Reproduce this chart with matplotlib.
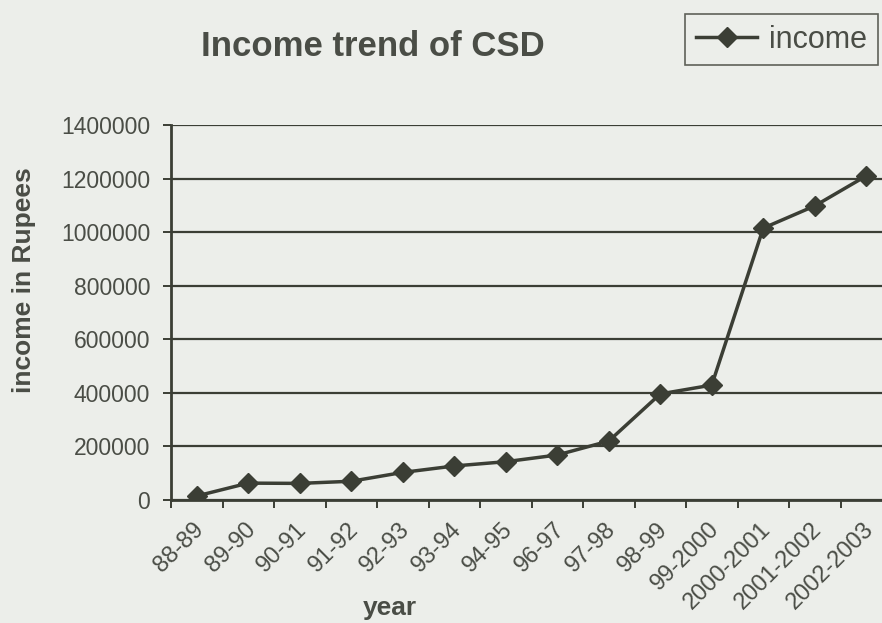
# Income trend of CSD - line chart recreation
import numpy as np
import matplotlib.pyplot as plt
from matplotlib.ticker import FixedLocator
import matplotlib.transforms as mtransforms

# Data
years = ["88-89", "89-90", "90-91", "91-92", "92-93", "93-94", "94-95",
         "96-97", "97-98", "98-99", "99-2000", "2000-2001", "2001-2002",
         "2002-2003"]
income = [15000, 63000, 62000, 70000, 103000, 127000, 143000,
          168000, 220000, 396000, 429000, 1015000, 1098000, 1210000]
y_ticks = [0, 200000, 400000, 600000, 800000, 1000000, 1200000, 1400000]

bg = "#eceeea"
ink = "#3b3e35"
txt = "#4a4d46"

plt.rcParams["font.family"] = ["Liberation Sans", "DejaVu Sans"]

fig = plt.figure(figsize=(8.82, 6.23), dpi=100, facecolor=bg)
ax = fig.add_axes([171 / 882, 1 - 500 / 623, 721 / 882, 375 / 623])
ax.set_facecolor(bg)

x = np.arange(len(years))
ax.plot(x, income, color=ink, lw=2.5, marker="D", ms=10,
        markerfacecolor=ink, markeredgecolor=ink, label="income")

ax.set_xlim(-0.5, len(years) - 0.5)
ax.set_ylim(0, 1400000)

# gridlines
ax.set_yticks(y_ticks)
ax.set_yticklabels([str(v) for v in y_ticks])
ax.yaxis.grid(True, color=ink, lw=1.6)
ax.set_axisbelow(True)

for s in ["top", "right"]:
    ax.spines[s].set_visible(False)
for s in ["left", "bottom"]:
    ax.spines[s].set_color(ink)
    ax.spines[s].set_linewidth(2)

# ticks at category boundaries, labels at centers
ax.set_xticks(x)
ax.set_xticklabels(years, rotation=45, ha="right", va="top",
                   rotation_mode="anchor", fontsize=17, color=txt)
ax.xaxis.set_minor_locator(FixedLocator(np.arange(-0.5, len(years), 1.0)))
ax.tick_params(axis="x", which="major", length=0, pad=13)
ax.tick_params(axis="x", which="minor", length=6, width=1.4, color=ink)
ax.tick_params(axis="y", length=6, width=1.4, color=ink, labelsize=16.5,
               labelcolor=txt, pad=9)

offset = mtransforms.ScaledTranslation(-4 / 100, 0, fig.dpi_scale_trans)
for lab in ax.get_xticklabels():
    lab.set_transform(lab.get_transform() + offset)

ax.set_ylabel("income in Rupees", fontsize=19, fontweight="bold", color=txt)
ax.yaxis.set_label_coords(36 / 882, 1 - 280 / 623, transform=fig.transFigure)
fig.text(390 / 882, 1 - 608 / 623, "year", fontsize=19, fontweight="bold",
         color=txt, ha="center", va="center")

fig.text(373 / 882, 1 - 46 / 623, "Income trend of CSD", fontsize=25,
         fontweight="bold", color=txt, ha="center", va="center")

leg = fig.legend(loc="upper right", bbox_to_anchor=(878 / 882, 1 - 14 / 623),
                 fontsize=22, frameon=True, fancybox=False, handlelength=2.0,
                 borderpad=0.35, handletextpad=0.4, borderaxespad=0)
leg.get_frame().set_edgecolor(ink)
leg.get_frame().set_facecolor(bg)
leg.get_frame().set_linewidth(1.2)
for t in leg.get_texts():
    t.set_color(txt)

fig.savefig("out.png", dpi=100, facecolor=bg)
